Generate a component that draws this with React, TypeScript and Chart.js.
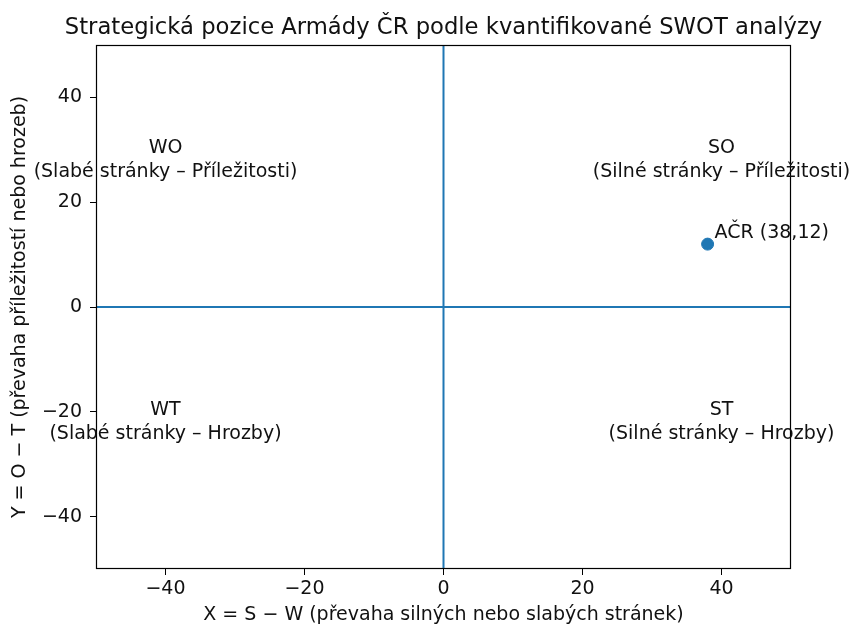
import React, { useEffect, useRef } from "react";
import { Chart, registerables } from "chart.js";

Chart.register(...registerables);

const TITLE = "Strategická pozice Armády ČR podle kvantifikované SWOT analýzy";
const X_TITLE = "X = S \u2212 W (převaha silných nebo slabých stránek)";
const Y_TITLE = "Y = O \u2212 T (převaha příležitostí nebo hrozeb)";

const AXIS_MIN = -50;
const AXIS_MAX = 50;
const TICK_VALUES = [-40, -20, 0, 20, 40];

const POINT_LABELS = ["AČR (38,12)"];
const POINT_X = [38];
const POINT_Y = [12];

const QUAD_NAMES = ["WO", "SO", "WT", "ST"];
const QUAD_DESCS = [
  "(Slabé stránky – Příležitosti)",
  "(Silné stránky – Příležitosti)",
  "(Slabé stránky – Hrozby)",
  "(Silné stránky – Hrozby)",
];
const QUAD_X = [-40, 40, -40, 40];
const QUAD_Y = [25, 25, -25, -25];

const BLUE = "#1f77b4";
const FONT = "'DejaVu Sans', sans-serif";
const LABEL_SIZE = 19;
const TITLE_SIZE = 22.7;

const fmt = (v: number) => (v < 0 ? "\u2212" + Math.abs(v) : String(v));

export default function App() {
  const ref = useRef<HTMLCanvasElement | null>(null);

  useEffect(() => {
    if (!ref.current) return;

    const overlay = {
      id: "swotOverlay",
      beforeDatasetsDraw(chart: any) {
        const { ctx, chartArea: a, scales } = chart;
        const x0 = scales.x.getPixelForValue(0);
        const y0 = scales.y.getPixelForValue(0);
        ctx.save();
        ctx.strokeStyle = BLUE;
        ctx.lineWidth = 2;
        ctx.beginPath();
        ctx.moveTo(a.left, y0);
        ctx.lineTo(a.right, y0);
        ctx.moveTo(x0, a.top);
        ctx.lineTo(x0, a.bottom);
        ctx.stroke();
        ctx.strokeStyle = "#000";
        ctx.lineWidth = 1.2;
        ctx.strokeRect(a.left + 0.5, a.top + 0.5, a.right - a.left - 1, a.bottom - a.top - 1);
        ctx.restore();
      },
      afterDraw(chart: any) {
        const { ctx, chartArea: a, scales } = chart;
        ctx.save();
        ctx.fillStyle = "#111";
        // title
        ctx.font = `${TITLE_SIZE}px ${FONT}`;
        ctx.textAlign = "center";
        ctx.textBaseline = "alphabetic";
        ctx.fillText(TITLE, (a.left + a.right) / 2, 34);
        // quadrant labels
        ctx.font = `${LABEL_SIZE}px ${FONT}`;
        for (let i = 0; i < QUAD_NAMES.length; i++) {
          const px = scales.x.getPixelForValue(QUAD_X[i]);
          const py = scales.y.getPixelForValue(QUAD_Y[i]);
          ctx.fillText(QUAD_DESCS[i], px, py + 1);
          ctx.fillText(QUAD_NAMES[i], px, py - 23);
        }
        // point labels
        ctx.textAlign = "left";
        for (let i = 0; i < POINT_LABELS.length; i++) {
          const px = scales.x.getPixelForValue(POINT_X[i]);
          const py = scales.y.getPixelForValue(POINT_Y[i]);
          ctx.fillText(POINT_LABELS[i], px + 7, py - 6);
        }
        // axis titles
        ctx.textAlign = "center";
        ctx.textBaseline = "middle";
        ctx.fillText(X_TITLE, (a.left + a.right) / 2, 615);
        ctx.translate(20, (a.top + a.bottom) / 2);
        ctx.rotate(-Math.PI / 2);
        ctx.fillText(Y_TITLE, 0, 0);
        ctx.restore();
      },
    };

    const tickOpts = {
      color: "#111",
      font: { family: FONT, size: LABEL_SIZE },
      callback: (v: any) => fmt(Number(v)),
    };
    const gridOpts = {
      display: true,
      drawOnChartArea: false,
      drawTicks: true,
      tickLength: 6,
      color: "#000",
    };

    const chart = new Chart(ref.current, {
      type: "scatter",
      data: {
        datasets: [
          {
            label: "AČR",
            data: POINT_X.map((x, i) => ({ x, y: POINT_Y[i] })),
            backgroundColor: BLUE,
            borderColor: BLUE,
            pointRadius: 6,
            pointHoverRadius: 6,
          },
        ],
      },
      options: {
        animation: false,
        responsive: false,
        events: [],
        layout: { padding: { top: 45, right: 60, left: 0, bottom: 0 } },
        plugins: { legend: { display: false }, tooltip: { enabled: false }, title: { display: false } },
        scales: {
          x: {
            type: "linear",
            min: AXIS_MIN,
            max: AXIS_MAX,
            grid: gridOpts,
            border: { display: false },
            ticks: { ...tickOpts, padding: 3 },
            afterBuildTicks: (s: any) => {
              s.ticks = TICK_VALUES.map((value) => ({ value }));
            },
            afterFit: (s: any) => {
              s.height = 59;
            },
          },
          y: {
            type: "linear",
            min: AXIS_MIN,
            max: AXIS_MAX,
            grid: gridOpts,
            border: { display: false },
            ticks: { ...tickOpts, padding: 8 },
            afterBuildTicks: (s: any) => {
              s.ticks = TICK_VALUES.map((value) => ({ value }));
            },
            afterFit: (s: any) => {
              s.width = 96;
            },
          },
        },
      } as any,
      plugins: [overlay],
    });
    return () => chart.destroy();
  }, []);

  return (
    <div style={{ position: "fixed", left: 0, top: 0, width: 851, height: 628, background: "#fff" }}>
      <canvas ref={ref} width={851} height={628} style={{ display: "block", width: 851, height: 628 }} />
    </div>
  );
}
